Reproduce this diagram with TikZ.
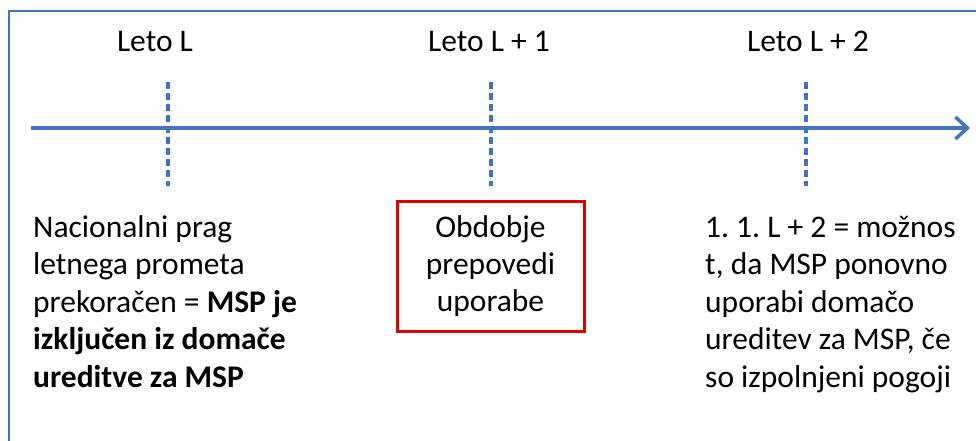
\documentclass[tikz,border=0pt]{standalone}
\usepackage{fontspec}
\setmainfont{Carlito}
\usetikzlibrary{arrows.meta}
\definecolor{tlblue}{HTML}{4472C4}
\definecolor{boxred}{HTML}{E00000}
\frenchspacing
\begin{document}
\begin{tikzpicture}[x=1pt,y=-1pt,
  frame/.style={draw=tlblue,line width=2pt},
  axis/.style={draw=tlblue,line width=3.5pt,-{Straight Barb[length=12pt,width=22pt]}},
  tick/.style={draw=tlblue,line width=4pt,dash pattern=on 7pt off 4pt},
  txt/.style={font=\fontsize{31.5}{37.4}\selectfont,inner sep=0pt,text=black},
  yearlabel/.style={txt,anchor=base},
  desc/.style={txt,align=left,anchor=base west},
  period/.style={txt,align=center,draw=boxred,line width=3pt,
    minimum width=187pt,minimum height=130pt}
]
\useasboundingbox (0,0) rectangle (976,441);
\fill[white] (0,0) rectangle (976,441);

% outer frame (top and left edges)
\coordinate (fbl) at (9,441);
\coordinate (ftl) at (9,11);
\coordinate (ftr) at (976,11);
\draw[frame] (fbl) -- (ftl) -- (ftr);

% time axis
\coordinate (axs) at (31,128);
\coordinate (axe) at (970,128);
\draw[axis] (axs) -- (axe);

% year ticks
\coordinate (y1t) at (168,82);  \coordinate (y1b) at (168,186);
\coordinate (y2t) at (490.5,82);  \coordinate (y2b) at (490.5,186);
\coordinate (y3t) at (806,82);  \coordinate (y3b) at (806,186);
\draw[tick] (y1t) -- (y1b);
\draw[tick] (y2t) -- (y2b);
\draw[tick] (y3t) -- (y3b);

% year labels
\node[yearlabel] (lab1) at (155,52) {Leto L};
\node[yearlabel] (lab2) at (489,52) {Leto L + 1};
\node[yearlabel] (lab3) at (808,52) {Leto L + 2};

% descriptions (anchored at the baseline of their last line)
\node[desc] (d1) at (33,387) {Nacionalni prag\\letnega prometa\\prekoračen = \textbf{MSP je}\\\textbf{izključen iz domače}\\\textbf{ureditve za MSP}};
\node[period] (d2) at (490.5,266) {Obdobje\\prepovedi\\uporabe};
\node[desc] (d3) at (705,387) {1. 1. L + 2 = možnos\\t, da MSP ponovno\\uporabi domačo\\ureditev za MSP, če\\so izpolnjeni pogoji};
\end{tikzpicture}
\end{document}
